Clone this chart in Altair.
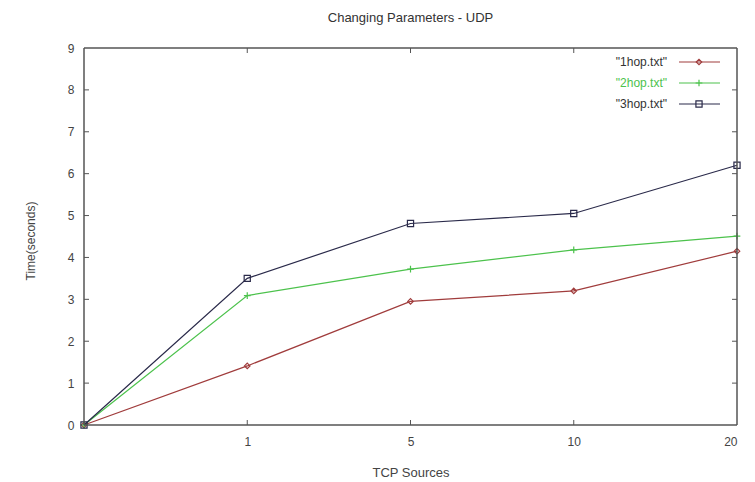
import altair as alt
import pandas as pd

# ---- data ----
x_labels = ["0", "1", "5", "10", "20"]
series_names = ['"1hop.txt"', '"2hop.txt"', '"3hop.txt"']
hop1 = [0.0, 1.41, 2.95, 3.20, 4.15]
hop2 = [0.0, 3.09, 3.72, 4.18, 4.51]
hop3 = [0.0, 3.50, 4.81, 5.05, 6.20]
y_ticks = [1, 2, 3, 4, 5, 6, 7, 8]
x_ticks = ["1", "5", "10"]

colors = ["#a03c3c", "#4cc24c", "#2a2a4a"]
text_colors = ["#333333", "#4cc24c", "#333333"]
shapes = ["diamond", "M-1,0H1M0,-1V1", "square"]
sizes = [30, 45, 38]

FONT = "Liberation Sans, Arial, sans-serif"
W, H = 653, 377

rows = []
for name, vals in zip(series_names, [hop1, hop2, hop3]):
    for xl, v in zip(x_labels, vals):
        rows.append({"series": name, "xi": x_labels.index(xl), "x": xl, "y": v})
df = pd.DataFrame(rows)

label_expr = ("datum.value == 1 ? '1' : datum.value == 2 ? '5' : "
              "datum.value == 3 ? '10' : datum.value == 4 ? '20' : ''")

xscale = alt.Scale(domain=[0, len(x_labels) - 1], nice=False, zero=False)
yscale = alt.Scale(domain=[0, 9], nice=False)
xaxis = alt.Axis(title="TCP Sources", values=list(range(len(x_labels))),
                 labelExpr=label_expr, ticks=False, domain=False, grid=False,
                 labelPadding=11, titleY=41, titleFontWeight="normal",
                 titleFontSize=13)
yaxis = alt.Axis(title="Time(seconds)", values=list(range(10)), ticks=False,
                 domain=False, grid=False, labelPadding=10, titleX=-47,
                 titleY=H / 2 + 4, titleFontWeight="normal", titleFontSize=12)

layers = []
for i, name in enumerate(series_names):
    base = alt.Chart(df[df.series == name])
    line = base.mark_line(color=colors[i], strokeWidth=1.2).encode(
        x=alt.X("xi:Q", scale=xscale, axis=xaxis),
        y=alt.Y("y:Q", scale=yscale, axis=yaxis),
    )
    pts = base.mark_point(shape=shapes[i], filled=False, size=sizes[i],
                          color=colors[i], strokeWidth=1.2, opacity=1).encode(
        x=alt.X("xi:Q", scale=xscale, axis=xaxis),
        y=alt.Y("y:Q", scale=yscale, axis=yaxis),
    )
    layers += [line, pts]

# inward ticks (gnuplot style, mirrored)
tick_color = "#555555"
yt = pd.DataFrame({"y": y_ticks})
xt = pd.DataFrame({"xi": [x_labels.index(t) for t in x_ticks]})
for xa, xb in [(0, 5), (W - 5, W)]:
    layers.append(alt.Chart(yt).mark_rule(color=tick_color, strokeWidth=1).encode(
        y=alt.Y("y:Q", scale=yscale, axis=yaxis), x=alt.value(xa), x2=alt.value(xb)))
for ya, yb in [(H - 5, H), (0, 5)]:
    layers.append(alt.Chart(xt).mark_rule(color=tick_color, strokeWidth=1).encode(
        x=alt.X("xi:Q", scale=xscale, axis=xaxis), y=alt.value(ya), y2=alt.value(yb)))

# frame
frame = pd.DataFrame({"k": [0]})
fc, fw = "#555555", 1.5
layers += [
    alt.Chart(frame).mark_rule(color=fc, strokeWidth=fw).encode(
        x=alt.value(0), x2=alt.value(W), y=alt.value(0)),
    alt.Chart(frame).mark_rule(color=fc, strokeWidth=fw).encode(
        x=alt.value(0), x2=alt.value(W), y=alt.value(H)),
    alt.Chart(frame).mark_rule(color=fc, strokeWidth=fw).encode(
        y=alt.value(0), y2=alt.value(H), x=alt.value(0)),
    alt.Chart(frame).mark_rule(color=fc, strokeWidth=fw).encode(
        y=alt.value(0), y2=alt.value(H), x=alt.value(W)),
]

# gnuplot-style legend (label left, sample right)
leg_y = [14, 35, 56]
for i, name in enumerate(series_names):
    ld = pd.DataFrame({"label": [name]})
    layers.append(alt.Chart(ld).mark_text(align="right", baseline="middle",
                                          fontSize=12, font=FONT,
                                          color=text_colors[i]).encode(
        text="label:N", x=alt.value(583), y=alt.value(leg_y[i])))
    layers.append(alt.Chart(ld).mark_rule(color=colors[i], strokeWidth=1.2).encode(
        x=alt.value(595), x2=alt.value(636), y=alt.value(leg_y[i])))
    layers.append(alt.Chart(ld).mark_point(shape=shapes[i], filled=False,
                                           size=sizes[i], color=colors[i],
                                           strokeWidth=1.2, opacity=1).encode(
        x=alt.value(615), y=alt.value(leg_y[i])))

chart = alt.layer(*layers).properties(
    width=W, height=H,
    background="white",
    title=alt.TitleParams("Changing Parameters - UDP", fontSize=13, font=FONT,
                          fontWeight="normal", color="#333333", offset=17,
                          anchor="middle"),
    autosize=alt.AutoSizeParams(type="none"),
    padding={"left": 84, "top": 48, "right": 18, "bottom": 57},
).configure_view(
    stroke=None
).configure_axis(
    labelFont=FONT, titleFont=FONT, labelFontSize=12,
    labelColor="#444444", titleColor="#444444"
)

chart.save("out.html", embed_options={"renderer": "svg", "actions": False})
